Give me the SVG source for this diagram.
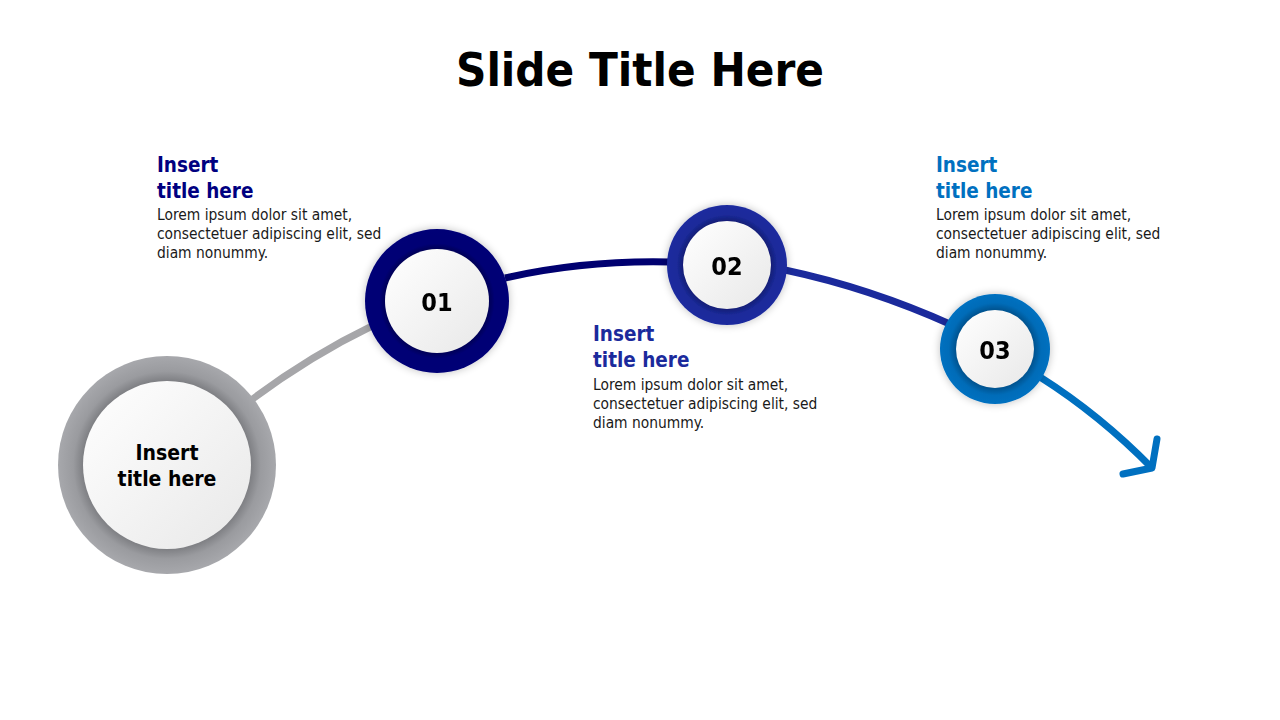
<svg xmlns="http://www.w3.org/2000/svg" width="1280" height="720" viewBox="0 0 1280 720">
<defs>
<style>
.t{font-family:"DejaVu Sans Condensed","DejaVu Sans",Verdana,sans-serif}
.title{font-size:47px;font-weight:bold;fill:#000}
.h{font-size:20.5px;font-weight:bold}
.b{font-size:15.4px;fill:#1a1a1a}
.num{font-size:25px;font-weight:bold;fill:#000}
.conn{fill:none;stroke-width:7;stroke-linecap:butt}
</style>
<linearGradient id="inner" x1="0" y1="0" x2="1" y2="1">
<stop offset="0" stop-color="#ffffff"/>
<stop offset="1" stop-color="#e8e8e8"/>
</linearGradient>
<radialGradient id="gGray" cx="0.5" cy="0.5" r="0.5">
<stop offset="0.72" stop-color="#6f7074"/>
<stop offset="0.86" stop-color="#9a9b9f"/>
<stop offset="1" stop-color="#a7a8ac"/>
</radialGradient>
<radialGradient id="g01" cx="0.5" cy="0.5" r="0.5">
<stop offset="0.7" stop-color="#00004e"/>
<stop offset="0.8" stop-color="#000074"/>
<stop offset="1" stop-color="#000076"/>
</radialGradient>
<radialGradient id="g02" cx="0.5" cy="0.5" r="0.5">
<stop offset="0.7" stop-color="#101a6c"/>
<stop offset="0.84" stop-color="#1b2a9a"/>
<stop offset="1" stop-color="#1c2b9e"/>
</radialGradient>
<radialGradient id="g03" cx="0.5" cy="0.5" r="0.5">
<stop offset="0.68" stop-color="#004d86"/>
<stop offset="0.84" stop-color="#006cb8"/>
<stop offset="1" stop-color="#0070c0"/>
</radialGradient>
<filter id="sh" x="-30%" y="-30%" width="160%" height="160%">
<feGaussianBlur in="SourceAlpha" stdDeviation="4"/>
<feComponentTransfer><feFuncA type="linear" slope="0.25"/></feComponentTransfer>
<feMerge><feMergeNode/><feMergeNode in="SourceGraphic"/></feMerge>
</filter>
</defs>
<rect width="1280" height="720" fill="#fff"/>
<text class="t title" x="640" y="86" text-anchor="middle">Slide Title Here</text>

<g id="connectors">
<path class="conn" d="M 250 401 Q 308 357 374 325" stroke="#a6a6a9"/>
<path class="conn" d="M 505 278 Q 585 260 670 262" stroke="#000070"/>
<path class="conn" d="M 785 270 Q 870 288 952 325" stroke="#1b2a9c"/>
<path class="conn" d="M 1040 377 Q 1100 415 1152 468" stroke="#0070c0"/>
<path d="M 1157 439 L 1152 468 L 1123 474" fill="none" stroke="#0070c0" stroke-width="7" stroke-linecap="round" stroke-linejoin="round"/>
</g>

<g id="node-start">
<circle cx="167" cy="465" r="109" fill="url(#gGray)"/>
<circle cx="167" cy="465" r="84" fill="url(#inner)"/>
<text class="t" x="167" y="460" text-anchor="middle" font-size="21" font-weight="bold" fill="#000">Insert</text>
<text class="t" x="167" y="486" text-anchor="middle" font-size="21" font-weight="bold" fill="#000">title here</text>
</g>

<g id="node-01" filter="url(#sh)">
<circle cx="437" cy="301" r="72" fill="url(#g01)"/>
<circle cx="437" cy="301" r="52" fill="url(#inner)"/>
<text class="t num" x="437" y="311" text-anchor="middle">01</text>
</g>

<g id="node-02" filter="url(#sh)">
<circle cx="727" cy="265" r="60" fill="url(#g02)"/>
<circle cx="727" cy="265" r="44" fill="url(#inner)"/>
<text class="t num" x="727" y="275" text-anchor="middle">02</text>
</g>

<g id="node-03" filter="url(#sh)">
<circle cx="995" cy="349" r="55" fill="url(#g03)"/>
<circle cx="995" cy="349" r="39" fill="url(#inner)"/>
<text class="t num" x="995" y="359" text-anchor="middle">03</text>
</g>

<g id="text-01">
<text class="t h" x="157" y="172" fill="#000080">Insert</text>
<text class="t h" x="157" y="198" fill="#000080">title here</text>
<text class="t b" x="157" y="220">Lorem ipsum dolor sit amet,</text>
<text class="t b" x="157" y="239">consectetuer adipiscing elit, sed</text>
<text class="t b" x="157" y="258">diam nonummy.</text>
</g>

<g id="text-02">
<text class="t h" x="593" y="341" fill="#1b2a9c">Insert</text>
<text class="t h" x="593" y="367" fill="#1b2a9c">title here</text>
<text class="t b" x="593" y="390">Lorem ipsum dolor sit amet,</text>
<text class="t b" x="593" y="409">consectetuer adipiscing elit, sed</text>
<text class="t b" x="593" y="428">diam nonummy.</text>
</g>

<g id="text-03">
<text class="t h" x="936" y="172" fill="#0070c0">Insert</text>
<text class="t h" x="936" y="198" fill="#0070c0">title here</text>
<text class="t b" x="936" y="220">Lorem ipsum dolor sit amet,</text>
<text class="t b" x="936" y="239">consectetuer adipiscing elit, sed</text>
<text class="t b" x="936" y="258">diam nonummy.</text>
</g>
</svg>
